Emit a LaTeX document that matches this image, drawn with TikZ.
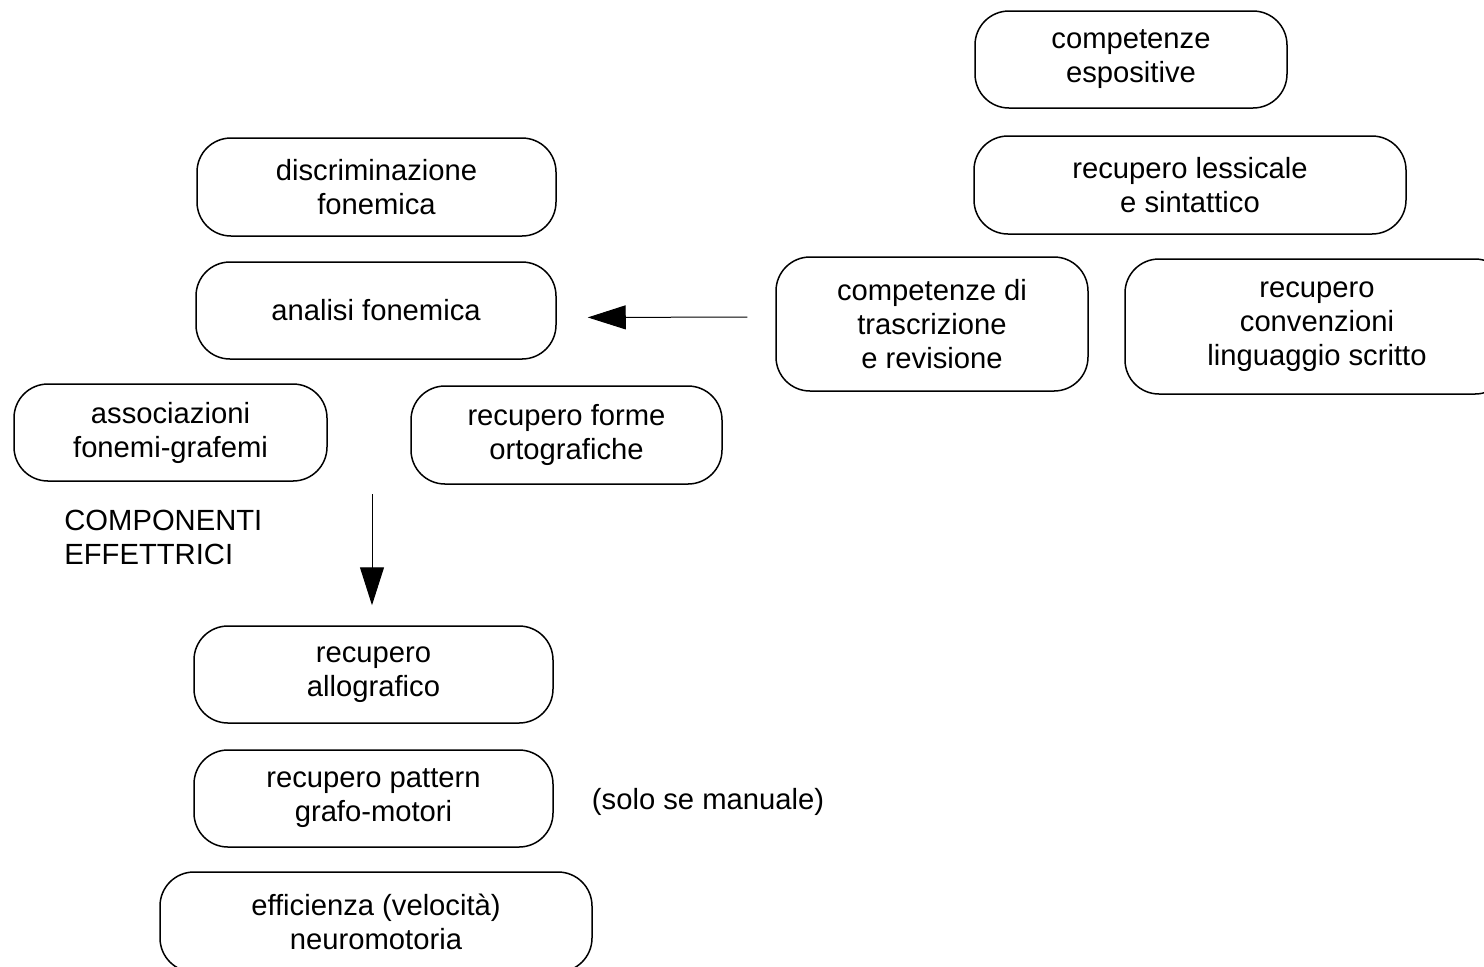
\documentclass[tikz,border=0pt]{standalone}
\usepackage{fontspec}
\setmainfont{Liberation Sans}
\usetikzlibrary{arrows.meta}
\begin{document}
\begin{tikzpicture}[x=0.5pt,y=-0.5pt,
  box/.style={draw, line width=0.75pt, rounded corners=17pt, align=center,
    inner sep=0pt, font=\fontsize{14.6}{17}\selectfont},
  plain/.style={inner sep=0pt, font=\fontsize{14.6}{17}\selectfont},
  conn/.style={line width=0.5pt, -{Triangle[length=19pt,width=12pt]}}]
\clip (0,0) rectangle (1484,966);
\fill[white] (0,0) rectangle (1484,966);
% upper right block
\node[box, minimum width=156pt, minimum height=48.5pt] (esp) at (1131,59.5) {competenze\\espositive};
\node[box, minimum width=216pt, minimum height=49pt] (less) at (1190,185) {recupero lessicale\\e sintattico};
\node[box, minimum width=156pt, minimum height=67pt] (trasc) at (932,324) {competenze di\\trascrizione\\e revisione};
\node[box, minimum width=192pt, minimum height=67.5pt] (conv) at (1317,326.5) {recupero\\convenzioni\\linguaggio scritto};
% upper left block
\node[box, minimum width=179.5pt, minimum height=49pt] (discr) at (376.5,187) {discriminazione\\fonemica};
\node[box, minimum width=180pt, minimum height=48.5pt] (anal) at (376,310.5) {analisi fonemica};
\node[box, minimum width=156.5pt, minimum height=48.5pt] (assoc) at (170.5,432.5) {associazioni\\fonemi-grafemi};
\node[box, minimum width=155.5pt, minimum height=49pt] (orto) at (566.5,435) {recupero forme\\ortografiche};
% effector components
\node[plain, anchor=west, align=left] (eff) at (64,537) {COMPONENTI\\EFFETTRICI};
\node[box, minimum width=179.5pt, minimum height=48.5pt] (allo) at (373.5,674.5) {recupero\\allografico};
\node[box, minimum width=179.5pt, minimum height=48.5pt] (patt) at (373.5,798.5) {recupero pattern\\grafo-motori};
\node[plain] (man) at (708,802) {(solo se manuale)};
\node[box, minimum width=216pt, minimum height=50pt] (neuro) at (376,922) {efficienza (velocità)\\neuromotoria};
% connectors
\draw[conn, shorten <=14pt, shorten >=15.5pt] ([yshift=3.5pt]trasc.west) -- ([yshift=-3.5pt]anal.east);
\coordinate (dtop) at (372,494);
\draw[conn, shorten >=10pt] (dtop) -- (dtop |- allo.north);
\end{tikzpicture}
\end{document}
